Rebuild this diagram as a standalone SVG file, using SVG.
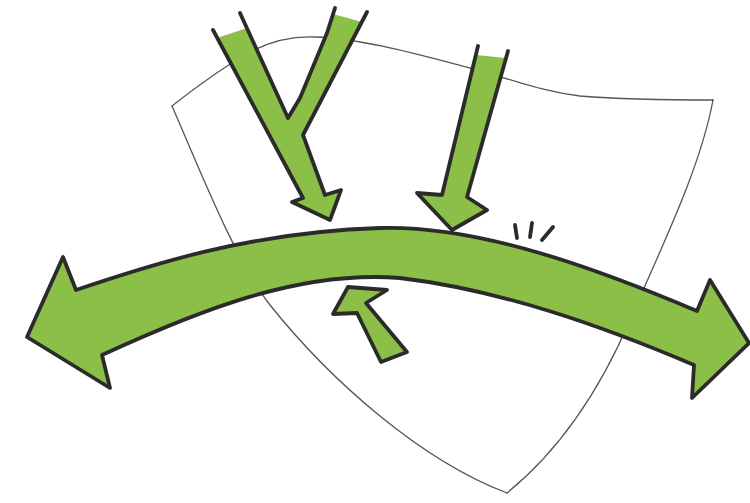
<svg xmlns="http://www.w3.org/2000/svg" width="750" height="503" viewBox="0 0 750 503">
<style>
.shield{fill:none;stroke:#555;stroke-width:1.3;stroke-linecap:round;stroke-linejoin:round}
.fill{fill:#8cbf47;stroke:none}
.ink{fill:none;stroke:#2b2b2b;stroke-width:3.8;stroke-linecap:round;stroke-linejoin:round}
.arrow{fill:#8cbf47;stroke:#2b2b2b;stroke-width:3.8;stroke-linejoin:round}
</style>
<rect width="750" height="503" fill="#fff"/>
<g id="shield">
<path class="shield" d="M172,106 C195,88 220,70 240,58 C265,42 290,36 315,37 C360,38 420,55 470,68 C520,82 545,92 580,96 C630,100 680,100 713,100"/>
<path class="shield" d="M172,106 C200,170 235,260 270,305 C330,380 420,460 507,493"/>
<path class="shield" d="M713,100 C700,170 660,250 630,320 C600,390 560,450 507,493"/>
</g>
<g id="connectors">
<g id="y-arrow">
<path class="fill" d="M217,38 L247,28 L288,118 L300,98 L327,33 L333,14 L362,22 L303,135 L325,195 L341,190 L330,220 L292,202 L303,198 Z"/>
<path class="ink" d="M213,30 L303,198 L292,202 L330,220 L341,190 L325,195 L303,135 L367,12"/>
<path class="ink" d="M240,13 L288,118 L300,98 L327,33 L335,8"/>
</g>
<g id="right-down-arrow">
<path class="fill" d="M476,55 L506,58 L467,197 L487,210 L452,230 L417,193 L442,195 Z"/>
<path class="ink" d="M478,46 L442,195 L417,193 L452,230 L487,210 L467,197 L508,51"/>
</g>
<g id="main-arrow">
<path class="arrow" d="M76,290 C150,265 250,232 380,228 C480,225 600,270 697,311 L710,280 L749,343 L692,398 L694,365 C600,325 500,290 400,278 C300,270 200,310 102,355 L110,388 L27,337 L63,257 Z"/>
</g>
<g id="up-arrow">
<path class="arrow" d="M333,314 L348,287 L387,290 L366,303 L407,352 L381,362 L357,313 Z"/>
</g>
<g id="ticks">
<path class="ink" stroke-width="3" d="M515,225 L517,238 M532,223 L530,237 M553,227 L542,240"/>
</g>
</g>
</svg>
